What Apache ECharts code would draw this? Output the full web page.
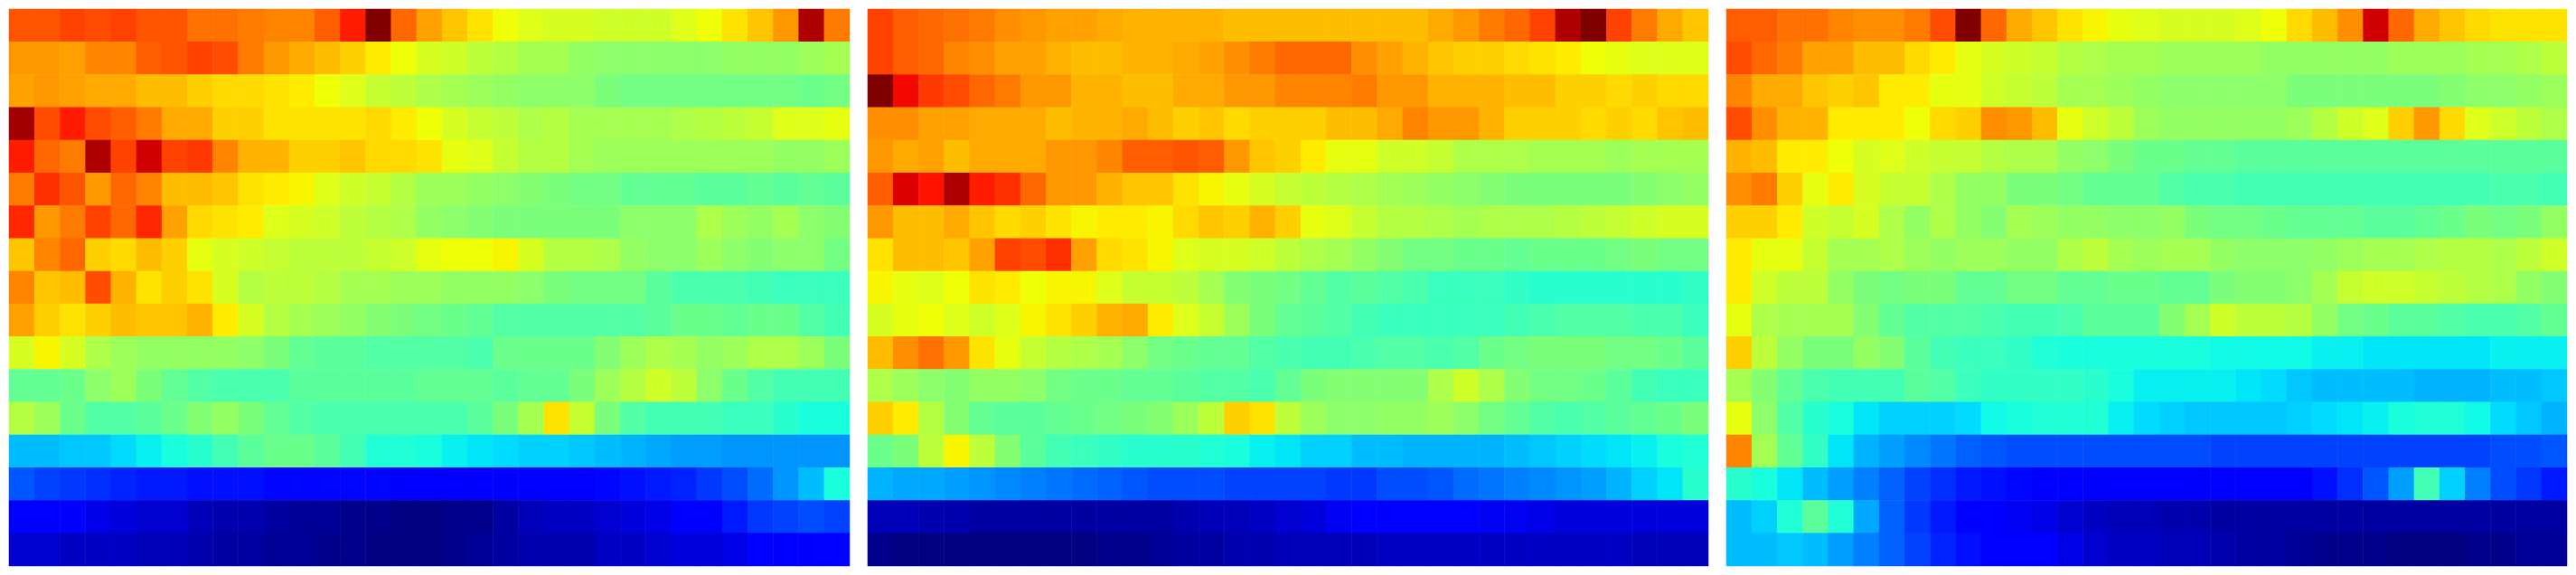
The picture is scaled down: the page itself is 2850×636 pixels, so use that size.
<!DOCTYPE html>
<html>
<head>
<meta charset="utf-8">
<style>html,body{margin:0;padding:0;background:#fff}#c{width:2850px;height:636px}</style>
<script src="https://cdn.jsdelivr.net/npm/echarts@6/dist/echarts.min.js"></script>
</head>
<body>
<div id="c"></div>
<script>
const columns = Array.from({length:33},(_,i)=>i);
const rows = Array.from({length:17},(_,i)=>i);

const panelA = [
[82,82,84,83,84,82,82,79,79,78,77,77,81,88,100,80,74,70,67,64,62,61,61,60,60,60,62,64,67,70,75,96,78],
[75,75,74,77,77,81,82,84,83,78,75,73,71,69,66,64,61,60,58,57,55,55,53,52,52,52,52,52,53,53,53,54,55],
[74,75,74,73,73,71,71,69,68,68,67,66,64,62,59,58,56,55,54,53,52,52,52,50,49,49,49,49,49,49,49,48,49],
[97,83,88,83,81,78,73,73,69,69,67,67,67,67,68,66,64,61,59,58,56,57,55,55,55,55,56,57,58,59,62,62,63],
[88,80,78,96,84,93,84,85,77,72,72,69,69,70,68,68,67,63,62,59,57,57,55,54,54,54,54,54,54,54,53,53,54],
[78,86,82,75,80,77,71,71,70,67,66,65,62,60,59,57,54,54,53,52,51,50,49,49,47,47,47,46,46,47,46,47,46],
[87,75,78,84,80,87,74,68,67,66,62,61,60,58,57,56,53,52,51,50,50,50,50,50,52,52,52,56,54,53,55,52,51],
[70,77,80,69,68,71,69,63,61,60,59,58,58,58,59,60,63,64,64,65,61,57,57,56,53,52,52,54,52,51,52,52,49],
[77,70,71,83,72,67,69,67,61,57,58,58,57,55,55,54,54,53,53,53,52,50,49,49,49,46,44,44,44,43,42,42,42],
[74,69,67,69,71,70,70,72,66,61,57,55,54,53,51,50,49,48,47,45,45,45,45,45,45,46,48,48,47,48,48,45,43],
[61,65,61,56,54,53,53,53,53,52,50,47,46,46,45,45,45,45,44,48,48,48,48,51,54,56,55,53,54,56,56,54,50],
[47,47,48,52,54,50,47,45,44,44,44,46,46,46,46,46,47,47,47,46,47,47,50,54,57,60,58,52,48,45,43,43,43],
[57,54,48,45,45,46,48,51,53,50,47,45,44,44,44,44,44,44,46,50,55,67,59,50,45,43,43,43,42,42,40,38,38],
[31,31,32,32,34,36,38,40,43,46,48,48,46,43,39,39,38,36,35,34,33,33,32,31,30,29,28,28,27,27,27,27,27],
[21,19,18,17,16,15,15,14,14,14,13,13,13,13,13,12,12,12,12,12,12,12,12,13,14,15,16,18,20,23,27,31,38],
[11,11,11,9,8,7,7,5,4,4,3,2,2,1,1,0,0,1,1,3,5,6,6,7,8,9,11,11,15,18,19,20,19],
[7,7,6,6,6,5,5,4,3,3,2,2,1,1,0,0,0,1,2,3,4,4,4,6,6,7,8,8,9,11,11,11,11]
];

const panelB = [
[84,81,80,79,78,76,75,74,74,73,72,72,72,72,71,71,71,71,71,71,71,71,73,75,78,80,84,96,100,84,78,73,70],
[84,81,80,77,76,74,74,72,71,71,72,72,73,74,76,78,80,80,80,76,74,72,70,69,69,68,67,66,64,63,62,62,62],
[100,90,85,83,80,78,75,75,72,72,71,71,73,73,75,75,77,77,77,78,75,75,72,72,72,71,71,69,69,68,69,68,68],
[76,76,74,74,73,73,73,71,72,72,73,71,69,70,68,69,69,69,71,71,73,77,75,75,72,69,69,69,68,69,68,70,71],
[75,73,74,71,73,73,73,75,75,77,81,81,82,81,75,70,69,66,63,63,60,60,59,56,56,56,55,55,55,54,55,55,55],
[81,92,89,96,88,86,80,75,75,72,70,70,67,65,63,61,59,58,57,56,55,54,53,52,51,50,50,50,50,50,51,52,53],
[75,71,71,73,70,68,69,67,65,66,66,65,68,70,69,72,69,63,62,59,57,57,56,55,56,56,56,57,58,59,60,61,61],
[67,71,71,70,74,84,83,86,74,68,67,65,62,61,61,60,58,56,55,53,51,49,49,48,48,47,48,48,48,49,50,49,49],
[65,63,62,64,67,66,64,65,65,62,59,59,58,55,51,50,49,47,45,46,45,44,42,42,42,41,40,40,40,40,40,40,41],
[61,63,64,62,60,62,65,67,69,72,73,66,62,59,54,50,47,46,45,43,42,42,42,42,42,43,44,45,45,45,44,44,42],
[71,76,79,75,67,63,59,57,56,55,52,49,48,47,47,45,44,43,43,44,45,45,44,45,48,49,50,50,50,49,49,48,46],
[56,54,52,51,53,53,52,49,48,48,47,47,46,45,45,44,47,50,51,51,51,51,56,60,56,51,49,49,48,46,43,42,42],
[69,66,57,51,47,46,46,47,48,49,50,51,54,58,69,67,58,54,52,52,53,53,54,52,49,47,45,44,45,46,47,48,50],
[48,50,58,65,58,51,46,43,42,41,40,40,40,39,38,36,35,33,33,31,31,30,30,30,30,31,32,33,34,35,36,38,39],
[30,29,29,28,27,26,25,24,23,22,21,20,20,20,19,19,19,19,18,18,20,20,21,23,24,25,26,27,28,30,33,35,40],
[5,5,4,4,3,3,3,3,3,3,3,3,4,5,5,6,7,8,10,11,11,11,11,11,10,10,9,8,8,8,8,8,8],
[1,0,0,0,0,0,0,0,0,1,1,2,3,3,4,4,5,5,5,5,6,6,6,6,6,6,6,6,6,6,5,5,5]
];

const panelC = [
[81,81,79,79,77,76,76,78,83,100,80,73,70,67,65,63,62,61,61,61,62,64,68,71,76,93,80,73,70,68,67,67,67],
[83,80,78,74,74,71,71,68,66,63,61,60,59,57,56,55,55,54,54,54,54,53,53,53,53,53,54,54,54,55,55,56,58],
[77,73,73,70,69,70,66,66,63,63,60,59,58,55,55,54,53,52,52,52,52,52,50,50,50,50,50,50,51,52,52,53,54],
[83,76,72,72,66,66,66,64,68,69,76,75,71,63,60,58,54,53,53,53,53,53,54,57,60,62,69,75,68,62,60,58,56],
[72,71,66,66,64,61,62,60,59,59,57,56,56,53,52,50,48,48,47,47,46,46,46,46,46,46,46,46,46,46,46,46,46],
[76,78,69,63,66,61,59,59,56,53,53,50,50,49,47,47,47,45,44,44,43,43,43,43,43,43,43,43,43,43,44,44,43],
[69,69,66,60,59,61,56,53,56,53,51,55,54,53,53,52,52,53,50,49,49,48,47,47,47,46,46,47,48,50,49,50,53],
[66,63,63,59,55,55,56,54,53,54,54,53,53,56,58,55,54,55,55,53,52,52,52,53,54,55,55,56,57,57,56,58,60],
[66,60,58,58,53,50,49,50,50,47,47,49,49,47,47,48,48,47,47,50,51,51,52,55,59,60,60,59,58,57,56,53,51],
[63,56,55,55,55,51,47,45,45,45,44,43,43,44,46,46,46,51,55,60,58,58,57,53,49,48,46,46,45,44,44,45,47],
[69,58,53,50,50,53,51,46,43,42,42,41,39,38,38,38,38,38,38,37,37,37,37,36,36,35,35,35,35,35,36,36,36],
[55,51,47,44,43,43,43,46,45,42,41,41,41,41,40,38,36,36,36,36,35,34,32,31,31,31,31,30,30,30,31,31,32],
[63,52,45,40,38,35,33,33,33,34,37,38,39,39,39,36,34,33,32,32,32,32,33,34,35,36,38,39,39,37,34,32,30],
[77,55,47,41,35,30,28,26,24,22,21,20,20,20,20,20,20,20,20,19,19,19,19,19,19,19,19,19,19,19,20,20,21],
[40,38,35,31,28,25,22,19,17,15,14,13,12,11,11,11,11,11,11,11,11,11,12,14,17,21,28,43,33,25,20,18,15],
[31,33,39,46,39,29,22,18,15,11,11,10,9,7,6,5,5,4,4,3,3,3,3,3,3,3,3,3,3,3,3,3,3],
[31,31,32,31,28,25,22,19,16,14,12,11,11,9,7,6,6,5,5,4,3,3,2,1,1,1,0,0,0,1,1,2,2]
];

const panels = [panelA, panelB, panelC];
const panelLefts = [10, 960, 1910];

function lerpStops(stops, t){
  for(let i=1;i<stops.length;i++){
    if(t<=stops[i][0]){
      const a=stops[i-1], b=stops[i];
      return a[1]+(b[1]-a[1])*(t-a[0])/(b[0]-a[0]);
    }
  }
  return stops[stops.length-1][1];
}
const R=[[0,0],[0.35,0],[0.66,1],[0.89,1],[1,0.5]];
const G=[[0,0],[0.125,0],[0.375,1],[0.64,1],[0.91,0],[1,0]];
const B=[[0,0.5],[0.11,1],[0.34,1],[0.65,0],[1,0]];
const jet=[];
for(let i=0;i<=100;i++){
  const t=i/100;
  jet.push('rgb('+[R,G,B].map(s=>Math.round(255*lerpStops(s,t))).join(',')+')');
}

const chart = echarts.init(document.getElementById('c'), null, {renderer:'canvas'});
chart.setOption({
  animation:false,
  backgroundColor:'#fff',
  grid: panels.map((_,i)=>({left:panelLefts[i], top:10, width:930, height:616, containLabel:false})),
  xAxis: panels.map((_,i)=>({type:'category', gridIndex:i, data:columns, show:false})),
  yAxis: panels.map((_,i)=>({type:'category', gridIndex:i, data:rows, inverse:true, show:false})),
  visualMap:{show:false, min:0, max:100, seriesIndex:[0,1,2], inRange:{color:jet}},
  series: panels.map((p,i)=>({
    type:'heatmap', xAxisIndex:i, yAxisIndex:i, progressive:0, silent:true,
    itemStyle:{borderWidth:0},
    data:p.flatMap((row,y)=>row.map((v,x)=>[x,y,v]))
  }))
});
</script>
</body>
</html>
